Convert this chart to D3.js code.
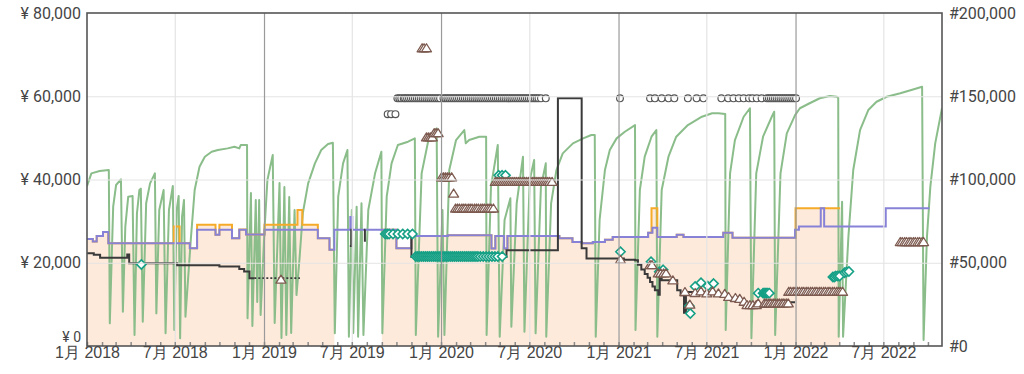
<!DOCTYPE html>
<html>
<head>
<meta charset="utf-8">
<script src="https://cdn.jsdelivr.net/npm/d3@7"></script>
<style>
  html, body { margin: 0; padding: 0; background: #fff; }
  svg { display: block; font-family: Roboto, "Noto Sans CJK JP", sans-serif; }
</style>
</head>
<body>
<svg width="1024" height="374"></svg>
<script>
// axis ticks
const priceTicks = [0, 20000, 40000, 60000, 80000];
const rankTicks = [0, 50000, 100000, 150000, 200000];
const labelDates = ['2018-01-01', '2018-07-01', '2019-01-01', '2019-07-01', '2020-01-01',
  '2020-07-01', '2021-01-01', '2021-07-01', '2022-01-01', '2022-07-01'];
const dateRange = ['2018-01-01', '2022-10-30'];

// amazon price (step, null = out of stock)
const amazonPrice = [
  ['2018-01-01', 25700], ['2018-01-13', 25100], ['2018-01-21', 26400], ['2018-02-03', 27400],
  ['2018-02-14', 24700], ['2018-06-29', 28700], ['2018-07-11', 24700], ['2018-08-01', 23500],
  ['2018-08-16', 29100], ['2018-09-23', 26700], ['2018-10-01', 29100], ['2018-10-27', 25900],
  ['2018-11-11', 28000], ['2018-11-25', 26800], ['2019-01-02', 29100], ['2019-03-11', 32700],
  ['2019-03-21', 29100], ['2019-04-22', 25900], ['2019-05-16', 23100], ['2019-05-26', null],
  ['2019-09-01', 27900], ['2019-10-01', 23500], ['2019-11-01', 26400], ['2020-01-15', 26600],
  ['2020-04-14', 23400], ['2020-04-22', 26400], ['2020-05-10', 23400], ['2020-05-17', 26400],
  ['2020-09-01', 25900], ['2020-09-28', 25000], ['2020-10-17', 24700], ['2020-11-09', 25000],
  ['2020-12-04', 25500], ['2020-12-20', 26200], ['2021-03-03', 27200], ['2021-03-10', 33100],
  ['2021-03-22', 26200], ['2021-05-01', 26700], ['2021-05-15', 26200], ['2021-08-05', 27200],
  ['2021-08-24', 26000], ['2022-01-01', 33100], ['2022-04-03', null]
];

// new price (step)
const newPrice = [
  ['2018-01-01', 25700], ['2018-01-13', 25100], ['2018-01-21', 26400], ['2018-02-03', 27400],
  ['2018-02-14', 24700], ['2018-08-01', 23500], ['2018-08-16', 27900], ['2018-09-23', 26700],
  ['2018-10-01', 27900], ['2018-10-27', 25900], ['2018-11-11', 27900], ['2018-11-25', 26800],
  ['2019-01-02', 27900], ['2019-04-22', 25900], ['2019-05-16', 23100], ['2019-05-26', 27900],
  ['2019-06-28', 31000], ['2019-07-02', 27900], ['2019-10-01', 23500], ['2019-11-01', 26400],
  ['2020-01-15', 26600], ['2020-04-14', 23400], ['2020-04-22', 26400], ['2020-05-10', 23400],
  ['2020-05-17', 26400], ['2020-09-01', 25900], ['2020-09-28', 25000], ['2020-10-17', 24700],
  ['2020-11-09', 25000], ['2020-12-04', 25500], ['2020-12-20', 26200], ['2021-03-03', 27200],
  ['2021-03-12', 28400], ['2021-03-22', 26200], ['2021-05-01', 26700], ['2021-05-15', 26200],
  ['2021-08-05', 27200], ['2021-08-24', 26000], ['2021-12-31', 27900], ['2022-01-08', 28700],
  ['2022-02-22', 33100], ['2022-03-01', 28700], ['2022-07-06', 33100], ['2022-10-04', 33100]
];

// used price (step)
const usedPrice = [
  ['2018-01-01', 22300], ['2018-01-15', 21900], ['2018-01-28', 21200], ['2018-03-25', 22000],
  ['2018-03-29', 19900], ['2018-07-06', 19400], ['2018-10-01', 19100], ['2018-11-11', 18500],
  ['2018-11-21', 17900], ['2018-12-02', 16300], ['2018-12-12', null],
  ['2019-06-27', 24000], ['2019-06-30', 27900], ['2019-07-01', null],
  ['2019-07-26', 25300], ['2019-07-28', 27900], ['2019-07-29', null],
  ['2019-10-31', 26400], ['2019-11-01', 21400], ['2020-05-15', 23000], ['2020-08-29', 59500],
  ['2020-10-17', 23500], ['2020-10-27', 21000], ['2021-01-12', 20700], ['2021-02-04', 20600],
  ['2021-02-10', 19500], ['2021-02-17', 18400], ['2021-02-24', 17300], ['2021-03-02', 16400],
  ['2021-03-07', 15400], ['2021-03-12', 14300], ['2021-03-17', 13400], ['2021-03-24', 12300],
  ['2021-03-27', 17800], ['2021-03-31', 15800], ['2021-05-02', 13400], ['2021-05-09', 12200],
  ['2021-05-16', 8000], ['2021-05-20', 13000], ['2021-07-20', 12200], ['2021-08-15', 11600],
  ['2021-09-10', 10300], ['2021-10-06', 9400], ['2021-11-05', 10500], ['2021-12-31', null]
];
const usedStale = [['2018-12-12', 16300], ['2019-03-16', 16300]];

// sales rank
const salesRank = [
  ['2018-01-01', 96000], ['2018-01-10', 103700], ['2018-01-27', 105100], ['2018-02-15', 105700], ['2018-02-17', 13600],
  ['2018-02-24', 83700], ['2018-03-02', 96700], ['2018-03-12', 100100], ['2018-03-16', 20600],
  ['2018-03-21', 71700], ['2018-03-27', 89700], ['2018-04-05', 90100], ['2018-04-09', 6600],
  ['2018-04-14', 79700], ['2018-04-19', 93700], ['2018-04-22', 94500], ['2018-04-26', 14600],
  ['2018-05-03', 85700], ['2018-05-11', 97700], ['2018-05-21', 103700], ['2018-05-24', 19600],
  ['2018-05-30', 81700], ['2018-06-08', 93700], ['2018-06-12', 7600],
  ['2018-06-19', 81700], ['2018-06-27', 96100], ['2018-06-30', 9600],
  ['2018-07-05', 81700], ['2018-07-09', 90100], ['2018-07-12', 4600],
  ['2018-07-16', 77700], ['2018-07-20', 87700], ['2018-07-23', 17600],
  ['2018-08-03', 63700], ['2018-08-11', 93700], ['2018-08-21', 107700], ['2018-09-01', 113700],
  ['2018-09-15', 116700], ['2018-09-28', 117700], ['2018-10-18', 118700], ['2018-11-01', 119700],
  ['2018-11-11', 118700], ['2018-11-14', 120700], ['2018-11-27', 120700], ['2018-11-28', 16600],
  ['2018-12-05', 91900], ['2018-12-08', 12000], ['2018-12-15', 87700], ['2018-12-18', 26400],
  ['2018-12-22', 87700], ['2018-12-25', 18600],
  ['2019-01-02', 69700], ['2019-01-08', 99700], ['2019-01-19', 114700], ['2019-01-23', 13800],
  ['2019-02-02', 97900], ['2019-02-06', 4800], ['2019-02-12', 95500], ['2019-02-16', 6600],
  ['2019-02-22', 89500], ['2019-02-26', 7800], ['2019-03-05', 81700], ['2019-03-09', 30600],
  ['2019-03-15', 51700], ['2019-03-22', 79700], ['2019-04-02', 97700], ['2019-04-16', 109700],
  ['2019-04-29', 117700], ['2019-05-13', 121300], ['2019-05-23', 122100], ['2019-05-27', 7600],
  ['2019-06-03', 89700], ['2019-06-13', 109700], ['2019-06-22', 117700], ['2019-06-25', 5600],
  ['2019-07-01', 81700], ['2019-07-04', 7800], ['2019-07-11', 83700], ['2019-07-14', 5600],
  ['2019-07-21', 85700], ['2019-07-25', 6600],
  ['2019-08-04', 81700], ['2019-08-18', 103700], ['2019-08-31', 116700], ['2019-09-02', 7600],
  ['2019-09-11', 89700], ['2019-09-21', 109700], ['2019-10-04', 120700], ['2019-10-25', 122700],
  ['2019-11-08', 124700], ['2019-11-10', 6600],
  ['2019-11-22', 103700], ['2019-12-06', 123700], ['2019-12-23', 130700], ['2019-12-26', 5600],
  ['2020-01-04', 81700], ['2020-01-08', 6600],
  ['2020-01-18', 105700], ['2020-02-01', 123700], ['2020-02-18', 129700], ['2020-02-21', 121700],
  ['2020-02-28', 123700], ['2020-03-20', 125700], ['2020-04-03', 125700], ['2020-04-04', 6600],
  ['2020-04-13', 95700], ['2020-04-27', 120700], ['2020-05-01', 5600],
  ['2020-05-11', 75700], ['2020-05-23', 88700], ['2020-05-25', 11600],
  ['2020-06-05', 85700], ['2020-06-18', 113700], ['2020-06-21', 8600],
  ['2020-07-02', 99700], ['2020-07-11', 111700], ['2020-07-14', 7600],
  ['2020-07-25', 95700], ['2020-08-04', 109700], ['2020-08-05', 5600],
  ['2020-08-15', 85700], ['2020-08-26', 105700], ['2020-09-08', 115700], ['2020-09-29', 121700],
  ['2020-10-20', 124700], ['2020-11-06', 126700], ['2020-11-13', 126700], ['2020-11-15', 5600],
  ['2020-11-23', 75700], ['2020-12-04', 105700], ['2020-12-14', 117700], ['2020-12-28', 124700],
  ['2021-01-14', 128700], ['2021-02-04', 132700], ['2021-02-05', 9600],
  ['2021-02-14', 93700], ['2021-02-24', 113700], ['2021-03-10', 125700], ['2021-03-20', 129700],
  ['2021-03-22', 5600],
  ['2021-03-31', 93700], ['2021-04-14', 113700], ['2021-04-30', 125700], ['2021-05-24', 132700],
  ['2021-06-22', 137700], ['2021-07-13', 139800], ['2021-07-26', 139800], ['2021-08-09', 139300],
  ['2021-08-10', 9600],
  ['2021-08-19', 103700], ['2021-08-29', 123700], ['2021-09-16', 137700], ['2021-09-29', 142800],
  ['2021-10-02', 4600],
  ['2021-10-12', 103700], ['2021-10-26', 125700], ['2021-11-13', 137700], ['2021-11-18', 140700],
  ['2021-11-20', 6600],
  ['2021-12-01', 103700], ['2021-12-14', 127700], ['2021-12-31', 138700], ['2022-01-10', 142800],
  ['2022-01-30', 145800], ['2022-02-20', 148800], ['2022-03-13', 150200], ['2022-03-27', 149700],
  ['2022-03-30', 148900], ['2022-03-31', 5600],
  ['2022-04-07', 86700], ['2022-04-09', 5600],
  ['2022-04-20', 65600], ['2022-04-30', 105700], ['2022-05-14', 129700], ['2022-05-31', 141700],
  ['2022-06-17', 146700], ['2022-07-08', 149700], ['2022-08-05', 151800], ['2022-09-02', 154200],
  ['2022-09-19', 155700], ['2022-09-22', 3600],
  ['2022-09-29', 65600], ['2022-10-06', 95700], ['2022-10-16', 121700], ['2022-10-30', 142800]
];

// offers drawn as open circles
const offerCircles = [
  ['2019-09-13', 55700], ['2019-09-20', 55700], ['2019-09-29', 55700],
  ['2019-10-03', 59500], ['2019-10-07', 59500], ['2019-10-11', 59500], ['2019-10-16', 59500],
  ['2019-10-19', 59500], ['2019-10-23', 59500], ['2019-10-27', 59500], ['2019-10-31', 59500],
  ['2019-11-04', 59500], ['2019-11-08', 59500], ['2019-11-12', 59500], ['2019-11-16', 59500],
  ['2019-11-20', 59500], ['2019-11-24', 59500], ['2019-11-28', 59500], ['2019-12-02', 59500],
  ['2019-12-06', 59500], ['2019-12-10', 59500], ['2019-12-14', 59500], ['2019-12-18', 59500],
  ['2019-12-22', 59500], ['2019-12-26', 59500], ['2019-12-30', 59500], ['2020-01-06', 59500],
  ['2020-01-10', 59500], ['2020-01-14', 59500], ['2020-01-18', 59500], ['2020-01-22', 59500],
  ['2020-01-26', 59500], ['2020-01-30', 59500], ['2020-02-03', 59500], ['2020-02-07', 59500],
  ['2020-02-11', 59500], ['2020-02-15', 59500], ['2020-02-19', 59500], ['2020-02-23', 59500],
  ['2020-02-27', 59500], ['2020-03-02', 59500], ['2020-03-06', 59500], ['2020-03-10', 59500],
  ['2020-03-14', 59500], ['2020-03-18', 59500], ['2020-03-22', 59500], ['2020-03-26', 59500],
  ['2020-03-30', 59500], ['2020-04-03', 59500], ['2020-04-07', 59500], ['2020-04-11', 59500],
  ['2020-04-15', 59500], ['2020-04-19', 59500], ['2020-04-23', 59500], ['2020-04-27', 59500],
  ['2020-05-01', 59500], ['2020-05-05', 59500], ['2020-05-09', 59500], ['2020-05-13', 59500],
  ['2020-05-17', 59500], ['2020-05-21', 59500], ['2020-05-25', 59500], ['2020-05-29', 59500],
  ['2020-06-02', 59500], ['2020-06-06', 59500], ['2020-06-10', 59500], ['2020-06-14', 59500],
  ['2020-06-18', 59500], ['2020-06-22', 59500], ['2020-06-26', 59500], ['2020-06-30', 59500],
  ['2020-07-04', 59500], ['2020-07-08', 59500], ['2020-07-12', 59500], ['2020-07-16', 59500],
  ['2020-07-20', 59500], ['2020-07-25', 59500], ['2020-08-04', 59500],
  ['2021-01-04', 59500], ['2021-03-07', 59500], ['2021-03-17', 59500], ['2021-03-31', 59500],
  ['2021-04-14', 59500], ['2021-04-26', 59500], ['2021-05-24', 59500], ['2021-06-11', 59500],
  ['2021-06-25', 59500], ['2021-08-01', 59500], ['2021-08-15', 59500], ['2021-08-26', 59500],
  ['2021-09-06', 59500], ['2021-09-16', 59500], ['2021-09-27', 59500], ['2021-10-04', 59500],
  ['2021-10-13', 59500], ['2021-10-23', 59500], ['2021-11-03', 59500], ['2021-11-07', 59500],
  ['2021-11-11', 59500], ['2021-11-15', 59500], ['2021-11-19', 59500], ['2021-11-23', 59500],
  ['2021-11-27', 59500], ['2021-12-01', 59500], ['2021-12-05', 59500], ['2021-12-09', 59500],
  ['2021-12-13', 59500], ['2021-12-17', 59500], ['2021-12-21', 59500], ['2021-12-25', 59500],
  ['2021-12-29', 59500], ['2022-01-02', 59500]
];

// offers drawn as open diamonds
const offerDiamonds = [
  ['2018-04-23', 19600],
  ['2019-09-08', 26900], ['2019-09-12', 26900], ['2019-09-16', 26900], ['2019-09-24', 26900],
  ['2019-10-04', 26900], ['2019-10-14', 26900], ['2019-10-24', 26900], ['2019-11-03', 26900],
  ['2019-11-10', 21500], ['2019-11-14', 21500], ['2019-11-18', 21500], ['2019-11-22', 21500],
  ['2019-11-26', 21500], ['2019-11-30', 21500], ['2019-12-04', 21500], ['2019-12-08', 21500],
  ['2019-12-12', 21500], ['2019-12-16', 21500], ['2019-12-20', 21500], ['2019-12-24', 21500],
  ['2019-12-28', 21500], ['2020-01-01', 21500], ['2020-01-05', 21500], ['2020-01-09', 21500],
  ['2020-01-13', 21500], ['2020-01-17', 21500], ['2020-01-21', 21500], ['2020-01-25', 21500],
  ['2020-01-29', 21500], ['2020-02-02', 21500], ['2020-02-06', 21500], ['2020-02-10', 21500],
  ['2020-02-14', 21500], ['2020-02-18', 21500], ['2020-02-22', 21500], ['2020-02-26', 21500],
  ['2020-03-01', 21500], ['2020-03-05', 21500], ['2020-03-09', 21500], ['2020-03-13', 21500],
  ['2020-03-17', 21500], ['2020-03-22', 21500], ['2020-03-28', 21500], ['2020-04-03', 21500],
  ['2020-04-09', 21500], ['2020-04-15', 21500], ['2020-04-21', 21500], ['2020-04-27', 21500],
  ['2020-05-06', 21500],
  ['2020-04-29', 41000], ['2020-05-06', 41000], ['2020-05-13', 41000],
  ['2021-01-05', 22650], ['2021-03-09', 20250], ['2021-03-26', 17850], ['2021-04-03', 18300],
  ['2021-05-27', 9600], ['2021-05-29', 7800],
  ['2021-06-08', 14300], ['2021-06-20', 15200], ['2021-07-04', 14400], ['2021-07-16', 15000],
  ['2021-10-16', 12700], ['2021-10-26', 12700], ['2021-10-28', 12700], ['2021-10-30', 12700],
  ['2021-11-01', 12700], ['2021-11-03', 12700], ['2021-11-05', 12700], ['2021-11-08', 12700],
  ['2022-03-19', 16600], ['2022-03-22', 16600], ['2022-03-25', 16800], ['2022-03-29', 16800],
  ['2022-04-02', 16800], ['2022-04-12', 17600], ['2022-04-16', 17800], ['2022-04-21', 17900]
];

// offers drawn as open triangles
const offerTriangles = [
  ['2019-02-05', 16000],
  ['2019-11-23', 71600], ['2019-11-27', 71600], ['2019-12-02', 71600],
  ['2019-12-02', 50200], ['2019-12-06', 50200], ['2019-12-10', 50200], ['2019-12-14', 50200],
  ['2019-12-18', 51200], ['2019-12-22', 51200], ['2019-12-26', 51200],
  ['2020-01-02', 40600], ['2020-01-06', 40600], ['2020-01-10', 40600], ['2020-01-14', 40600],
  ['2020-01-18', 40600], ['2020-01-23', 40600],
  ['2020-01-27', 36700],
  ['2020-01-31', 33100], ['2020-02-04', 33100], ['2020-02-08', 33100], ['2020-02-13', 33100],
  ['2020-02-17', 33100], ['2020-02-21', 33100], ['2020-02-26', 33100], ['2020-03-01', 33100],
  ['2020-03-05', 33100], ['2020-03-10', 33100], ['2020-03-14', 33100], ['2020-03-18', 33100],
  ['2020-03-23', 33100], ['2020-03-27', 33100], ['2020-03-31', 33100], ['2020-04-05', 33100],
  ['2020-04-09', 33100], ['2020-04-13', 33100], ['2020-04-18', 33100],
  ['2020-04-22', 39500], ['2020-04-26', 39500], ['2020-04-30', 39500], ['2020-05-04', 39500],
  ['2020-05-08', 39500], ['2020-05-12', 39500], ['2020-05-16', 39500], ['2020-05-20', 39500],
  ['2020-05-24', 39500], ['2020-05-28', 39500], ['2020-06-01', 39500], ['2020-06-05', 39500],
  ['2020-06-09', 39500], ['2020-06-13', 39500], ['2020-06-17', 39500], ['2020-06-21', 39500],
  ['2020-06-25', 39500], ['2020-06-29', 39500], ['2020-07-03', 39500], ['2020-07-07', 39500],
  ['2020-07-11', 39500], ['2020-07-15', 39500], ['2020-07-19', 39500], ['2020-07-23', 39500],
  ['2020-07-27', 39500], ['2020-07-31', 39500], ['2020-08-04', 39500], ['2020-08-08', 39500],
  ['2020-08-12', 39500], ['2020-08-17', 39500],
  ['2021-01-05', 20800], ['2021-03-07', 19500], ['2021-03-11', 19500],
  ['2021-03-24', 17500], ['2021-03-29', 17500], ['2021-04-04', 17500], ['2021-04-09', 17500],
  ['2021-04-23', 15850], ['2021-05-18', 13050], ['2021-05-28', 10000],
  ['2021-06-08', 12800], ['2021-06-20', 13200], ['2021-07-02', 12700], ['2021-07-14', 13200],
  ['2021-07-26', 12700], ['2021-08-08', 12600],
  ['2021-08-16', 11850], ['2021-08-30', 11600], ['2021-09-08', 11400], ['2021-09-17', 10700],
  ['2021-09-23', 9900], ['2021-09-29', 9900], ['2021-10-05', 9900], ['2021-10-12', 9900],
  ['2021-10-16', 10300],
  ['2021-10-29', 10300], ['2021-11-02', 10300], ['2021-11-07', 10300], ['2021-11-11', 10300],
  ['2021-11-16', 10300], ['2021-11-20', 10300], ['2021-11-25', 10300], ['2021-11-29', 10300],
  ['2021-12-04', 10300], ['2021-12-08', 10300], ['2021-12-13', 10300], ['2021-12-17', 10300],
  ['2021-12-18', 13100], ['2021-12-22', 13100], ['2021-12-27', 13100], ['2021-12-31', 13100],
  ['2022-01-05', 13100], ['2022-01-09', 13100], ['2022-01-14', 13100], ['2022-01-18', 13100],
  ['2022-01-23', 13100], ['2022-01-27', 13100], ['2022-02-01', 13100], ['2022-02-05', 13100],
  ['2022-02-10', 13100], ['2022-02-14', 13100], ['2022-02-19', 13100], ['2022-02-23', 13100],
  ['2022-02-28', 13100], ['2022-03-04', 13100], ['2022-03-09', 13100], ['2022-03-13', 13100],
  ['2022-03-18', 13100], ['2022-03-22', 13100], ['2022-03-27', 13100], ['2022-03-31', 13100],
  ['2022-04-04', 13100], ['2022-04-08', 13100],
  ['2022-08-05', 25050], ['2022-08-09', 25050], ['2022-08-14', 25050], ['2022-08-18', 25050],
  ['2022-08-23', 25050], ['2022-08-27', 25050], ['2022-09-01', 25050], ['2022-09-05', 25050],
  ['2022-09-10', 25050], ['2022-09-14', 25050], ['2022-09-19', 25050], ['2022-09-22', 25050]
];

const parse = d3.timeParse('%Y-%m-%d');

// 1024x374 canvas, plot box from (87,13) to (942,346)
const margin = { left: 87, right: 82, top: 13, bottom: 28 };
const width = 1024 - margin.left - margin.right;
const height = 374 - margin.top - margin.bottom;

const svg = d3.select('svg');
const chart = svg.append('g').attr('transform', `translate(${margin.left}, ${margin.top})`);

const x = d3.scaleTime().domain(dateRange.map(parse)).range([0, width]);
const yPrice = d3.scaleLinear().domain([0, 80000]).range([height, 0]);
const yRank = d3.scaleLinear().domain([0, 200000]).range([height, 0]);

chart.append('clipPath').attr('id', 'plot')
  .append('rect').attr('width', width).attr('height', height);

// turn a step series into corner points, null breaks the line
const stepPoints = (series) => {
  const pts = [];
  series.forEach(([d, v], i) => {
    if (v === null) { pts.push(null); return; }
    pts.push([parse(d), v]);
    if (i + 1 < series.length) pts.push([parse(series[i + 1][0]), v]);
  });
  return pts;
};

const priceLine = d3.line().defined(p => p !== null)
  .x(p => x(p[0])).y(p => yPrice(p[1]));
const priceArea = d3.area().defined(p => p !== null)
  .x(p => x(p[0])).y0(height).y1(p => yPrice(p[1]));

const plot = chart.append('g').attr('clip-path', 'url(#plot)');

// amazon fill
plot.append('path')
  .attr('d', priceArea(stepPoints(amazonPrice)))
  .attr('fill', '#fdeadb');

// grid lines
const gridY = chart.append('g')
  .call(d3.axisLeft(yPrice).tickValues(priceTicks.slice(1, -1)).tickSize(-width).tickFormat(''));
gridY.select('.domain').remove();
gridY.selectAll('line').attr('stroke', '#e4e4e4');

const halfYears = labelDates.map(parse);
const gridX = chart.append('g').attr('transform', `translate(0, ${height})`)
  .call(d3.axisBottom(x).tickValues(halfYears.slice(1)).tickSize(-height).tickFormat(''));
gridX.select('.domain').remove();
gridX.selectAll('line')
  .attr('stroke', d => (d.getMonth() === 0 ? '#9a9a9a' : '#e4e4e4'))
  .attr('stroke-width', 1.2);

// month ticks along the bottom
const monthTicks = chart.append('g').attr('transform', `translate(0, ${height})`)
  .call(d3.axisBottom(x).ticks(d3.timeMonth.every(1)).tickSize(-4).tickFormat(''));
monthTicks.select('.domain').remove();
monthTicks.selectAll('line').attr('stroke', '#8a8a8a').attr('stroke-width', 1.5);

// sales rank
plot.append('path')
  .attr('d', d3.line().x(d => x(parse(d[0]))).y(d => yRank(d[1]))(salesRank))
  .attr('fill', 'none')
  .attr('stroke', '#8abd8a')
  .attr('stroke-width', 2)
  .attr('stroke-linejoin', 'round');

// amazon, new, used price lines
plot.append('path')
  .attr('d', priceLine(stepPoints(amazonPrice)))
  .attr('fill', 'none').attr('stroke', '#f5aa28').attr('stroke-width', 2);

plot.append('path')
  .attr('d', priceLine(stepPoints(newPrice)))
  .attr('fill', 'none').attr('stroke', '#8782d7').attr('stroke-width', 2);

plot.append('path')
  .attr('d', priceLine(stepPoints(usedPrice)))
  .attr('fill', 'none').attr('stroke', '#3a3a3a').attr('stroke-width', 2);

plot.append('path')
  .attr('d', priceLine(usedStale.map(([d, v]) => [parse(d), v])))
  .attr('fill', 'none').attr('stroke', '#3a3a3a').attr('stroke-width', 1.6)
  .attr('stroke-dasharray', '2,2');

// offer markers
plot.selectAll('circle.offer').data(offerCircles).enter().append('circle')
  .attr('class', 'offer')
  .attr('cx', d => x(parse(d[0])))
  .attr('cy', d => yPrice(d[1]))
  .attr('r', 3.4)
  .attr('fill', '#fff').attr('stroke', '#555').attr('stroke-width', 1.2);

plot.selectAll('path.diamond').data(offerDiamonds).enter().append('path')
  .attr('class', 'diamond')
  .attr('transform', d => `translate(${x(parse(d[0]))}, ${yPrice(d[1])})`)
  .attr('d', 'M0,-4.6L4.6,0L0,4.6L-4.6,0Z')
  .attr('fill', '#fff').attr('stroke', '#16a085').attr('stroke-width', 1.6);

plot.selectAll('path.triangle').data(offerTriangles).enter().append('path')
  .attr('class', 'triangle')
  .attr('transform', d => `translate(${x(parse(d[0]))}, ${yPrice(d[1])})`)
  .attr('d', 'M0,-4.2L5,3.8L-5,3.8Z')
  .attr('fill', '#fff').attr('stroke', '#7d5a4f').attr('stroke-width', 1.3)
  .attr('stroke-linejoin', 'round');

// frame
chart.append('rect')
  .attr('width', width).attr('height', height)
  .attr('fill', 'none').attr('stroke', '#555').attr('stroke-width', 1.6);

// axis labels
const fmt = d3.format(',');
const leftAxis = chart.append('g')
  .call(d3.axisLeft(yPrice).tickValues(priceTicks).tickSize(0).tickPadding(6)
    .tickFormat(d => `¥ ${fmt(d)}`));
leftAxis.select('.domain').remove();
leftAxis.selectAll('text').attr('font-size', 16).attr('fill', '#454545')
  .attr('font-family', 'Roboto, sans-serif');
leftAxis.selectAll('text').filter(d => d === 0)
  .attr('font-size', 14).attr('dy', '-0.3em');

const rightAxis = chart.append('g').attr('transform', `translate(${width}, 0)`)
  .call(d3.axisRight(yRank).tickValues(rankTicks).tickSize(0).tickPadding(7)
    .tickFormat(d => `#${fmt(d)}`));
rightAxis.select('.domain').remove();
rightAxis.selectAll('text').attr('font-size', 16).attr('fill', '#454545')
  .attr('font-family', 'Roboto, sans-serif');

const bottomAxis = chart.append('g').attr('transform', `translate(0, ${height})`)
  .call(d3.axisBottom(x).tickValues(halfYears).tickSize(0).tickPadding(1)
    .tickFormat(d => `${d.getMonth() + 1}月 ${d.getFullYear()}`));
bottomAxis.select('.domain').remove();
bottomAxis.selectAll('text').attr('font-size', 16).attr('fill', '#454545');
</script>
</body>
</html>
